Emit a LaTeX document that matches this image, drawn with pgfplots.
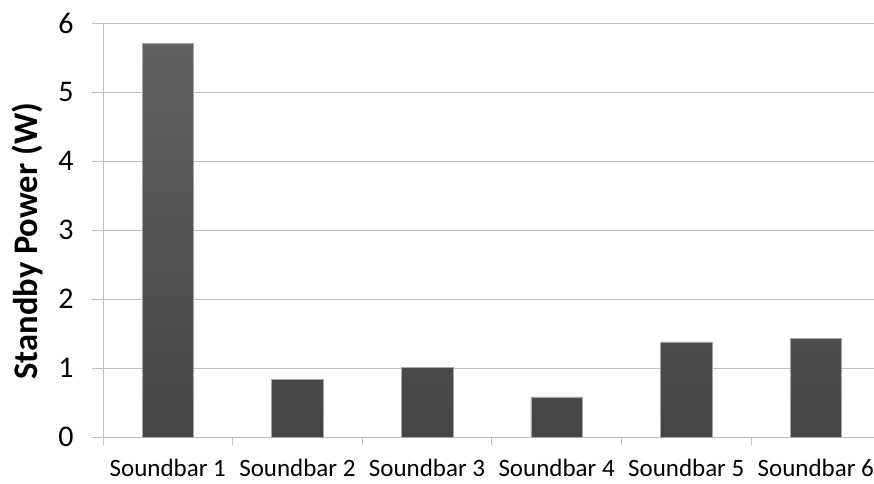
\documentclass[border=0pt]{standalone}
\usepackage{pgfplots}
\pgfplotsset{compat=1.18}
\usepackage{fontspec}
\setmainfont{Carlito}
\definecolor{gridgray}{HTML}{BFBFBF}
\definecolor{bartop}{HTML}{626262}
\definecolor{barbot}{HTML}{454545}
\begin{document}
\begin{tikzpicture}
\begin{axis}[
  at={(103pt,46pt)}, anchor=south west,
  scale only axis, width=771pt, height=414pt,
  xmin=-0.5, xmax=5.449, ymin=0, ymax=6,
  ybar, bar width=51.6pt,
  axis x line=bottom, axis y line=left,
  axis line style={-, draw=gridgray, line width=1pt},
  xtick={0,1,2,3,4,5},
  xticklabels={Soundbar 1,Soundbar 2,Soundbar 3,Soundbar 4,Soundbar 5,Soundbar 6},
  major x tick style={draw=none},
  minor xtick={-0.5,0.5,1.5,2.5,3.5,4.5},
  minor x tick style={draw=gridgray, line width=1pt},
  minor tick length=8pt,
  ytick={0,1,2,3,4,5,6},
  yticklabels={0,1,2,3,4,5,6},
  major y tick style={draw=gridgray, line width=1pt},
  major tick length=11pt,
  tick align=outside,
  ymajorgrids, grid style={draw=gridgray, line width=1pt},
  /pgf/number format/assume math mode=true,
  x tick label style={font=\fontsize{25}{28}\selectfont, text=black, yshift=-8pt},
  y tick label style={font=\fontsize{30}{32}\selectfont, text=black, xshift=-15pt},
  ylabel={\textbf{Standby Power (W)}},
  ylabel style={font=\fontsize{34.5}{38}\selectfont, at={(axis description cs:-0.0986,0.473)}, anchor=center},
  clip=false,
]
\addplot[draw=gray!70, line width=0.5pt, top color=bartop, bottom color=barbot]
  coordinates {(0,5.70) (1,0.83) (2,1.01) (3,0.58) (4,1.38) (5,1.43)};
\end{axis}
\pgfresetboundingbox
\useasboundingbox (0,0) rectangle (874pt,483pt);
\end{tikzpicture}
\end{document}
